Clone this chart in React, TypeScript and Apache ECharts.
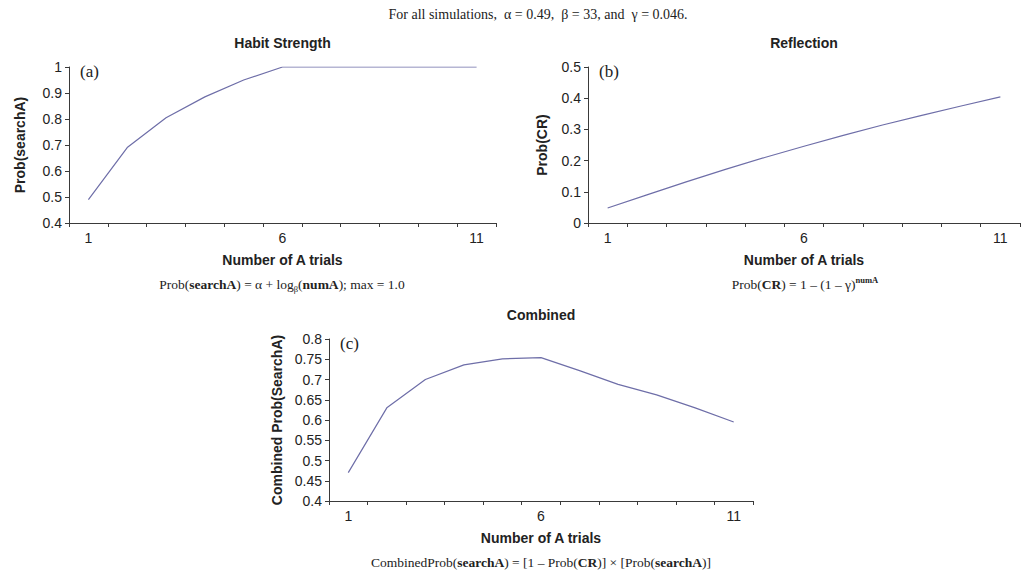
import React, { useEffect, useRef } from 'react';
import * as echarts from 'echarts';

const trials = ['1', '2', '3', '4', '5', '6', '7', '8', '9', '10', '11'];
const habitStrength = [0.49, 0.69, 0.805, 0.885, 0.95, 1, 1, 1, 1, 1, 1];
const reflection = [0.048, 0.09, 0.132, 0.172, 0.21, 0.246, 0.281, 0.314, 0.345, 0.375, 0.404];
const combined = [0.47, 0.63, 0.7, 0.736, 0.751, 0.754, 0.722, 0.688, 0.662, 0.63, 0.595];

const titles = ['Habit Strength', 'Reflection', 'Combined'];
const yNames = ['Prob(searchA)', 'Prob(CR)', 'Combined Prob(SearchA)'];
const xName = 'Number of A trials';
const panelLabels = ['(a)', '(b)', '(c)'];
const caption = 'For all simulations,  \u03b1 = 0.49,  \u03b2 = 33, and  \u03b3 = 0.046.';

const SANS = '"Liberation Sans", Arial, sans-serif';
const SERIF = '"Liberation Serif", "Times New Roman", serif';
const LINE = '#6e6ea8';
const AXIS = '#3a3a3a';
const TEXT = '#222';

const grids = [
  { left: 69, top: 67, width: 427, height: 156 },
  { left: 588, top: 67, width: 432, height: 156 },
  { left: 329, top: 339, width: 424, height: 162 },
];
const yRanges = [
  { min: 0.4, max: 1, interval: 0.1 },
  { min: 0, max: 0.5, interval: 0.1 },
  { min: 0.4, max: 0.8, interval: 0.05 },
];
const yNameGaps = [42, 39, 45];
const seriesData = [habitStrength, reflection, combined];

const serifRich = {
  n: { fontFamily: SERIF, fontSize: 13.5, fill: TEXT, lineHeight: 18 },
  b: { fontFamily: SERIF, fontSize: 13.5, fontWeight: 'bold', fill: TEXT, lineHeight: 18 },
  sub: { fontFamily: SERIF, fontSize: 8.5, fill: TEXT, lineHeight: 9, verticalAlign: 'bottom' },
  sup: { fontFamily: SERIF, fontSize: 8.5, fontWeight: 'bold', fill: TEXT, lineHeight: 11, verticalAlign: 'top' },
};

export default function App() {
  const ref = useRef<HTMLDivElement>(null);
  useEffect(() => {
    if (!ref.current) return;
    const chart = echarts.init(ref.current, null, { renderer: 'svg' });
    const option: any = {
      animation: false,
      backgroundColor: '#fff',
      grid: grids.map((g) => ({ ...g, containLabel: false })),
      xAxis: grids.map((_, i) => ({
        type: 'category',
        gridIndex: i,
        data: trials,
        boundaryGap: true,
        name: xName,
        nameLocation: 'middle',
        nameGap: 30,
        nameTextStyle: { fontFamily: SANS, fontSize: 14, fontWeight: 'bold', color: TEXT },
        axisLine: { lineStyle: { color: AXIS, width: 1 } },
        axisTick: { show: true, interval: 0, length: 4, lineStyle: { color: AXIS } },
        axisLabel: { interval: 4, margin: 8, fontFamily: SANS, fontSize: 14, color: TEXT },
        splitLine: { show: false },
      })),
      yAxis: grids.map((_, i) => ({
        type: 'value',
        gridIndex: i,
        ...yRanges[i],
        name: yNames[i],
        nameLocation: 'middle',
        nameRotate: 90,
        nameGap: yNameGaps[i],
        nameTextStyle: { fontFamily: SANS, fontSize: 14, fontWeight: 'bold', color: TEXT },
        axisLine: { show: true, lineStyle: { color: AXIS, width: 1 } },
        axisTick: { show: true, length: 4, lineStyle: { color: AXIS } },
        axisLabel: { margin: 7, fontFamily: SANS, fontSize: 14, color: TEXT },
        splitLine: { show: false },
      })),
      series: seriesData.map((d, i) => ({
        type: 'line',
        xAxisIndex: i,
        yAxisIndex: i,
        data: d,
        symbol: 'none',
        lineStyle: { color: LINE, width: 1.2 },
      })),
      graphic: [
        {
          type: 'text', x: 538, y: 14,
          style: { text: caption, font: `14px ${SERIF}`, fill: TEXT, align: 'center', verticalAlign: 'middle', textAlign: 'center', textVerticalAlign: 'middle' },
        },
        ...grids.map((g, i) => ({
          type: 'text', x: g.left + g.width / 2, y: g.top - 24,
          style: { text: titles[i], font: `bold 14px ${SANS}`, fill: TEXT, align: 'center', verticalAlign: 'middle', textAlign: 'center', textVerticalAlign: 'middle' },
        })),
        ...grids.map((g, i) => ({
          type: 'text', x: g.left + 11, y: g.top + 4,
          style: { text: panelLabels[i], font: `17px ${SERIF}`, fill: TEXT, align: 'left', verticalAlign: 'middle', textAlign: 'left', textVerticalAlign: 'middle' },
        })),
        {
          type: 'text', x: 282, y: 284,
          style: {
            text: '{n|Prob(}{b|searchA}{n|) = \u03b1 + log}{sub|\u03b2}{n|(}{b|numA}{n|); max = 1.0}',
            rich: serifRich, align: 'center', verticalAlign: 'middle', textAlign: 'center', textVerticalAlign: 'middle',
          },
        },
        {
          type: 'text', x: 805, y: 284,
          style: {
            text: '{n|Prob(}{b|CR}{n|) = 1 \u2013 (1 \u2013 \u03b3)}{sup|numA}',
            rich: serifRich, align: 'center', verticalAlign: 'middle', textAlign: 'center', textVerticalAlign: 'middle',
          },
        },
        {
          type: 'text', x: 541, y: 562,
          style: {
            text: '{n|CombinedProb(}{b|searchA}{n|) = [1 \u2013 Prob(}{b|CR}{n|)] \u00d7 [Prob(}{b|searchA}{n|)]}',
            rich: serifRich, align: 'center', verticalAlign: 'middle', textAlign: 'center', textVerticalAlign: 'middle',
          },
        },
      ],
    };
    chart.setOption(option);
    return () => chart.dispose();
  }, []);
  return (
    <div
      ref={ref}
      style={{ position: 'fixed', left: 0, top: 0, width: 1025, height: 576, background: '#fff' }}
    />
  );
}
